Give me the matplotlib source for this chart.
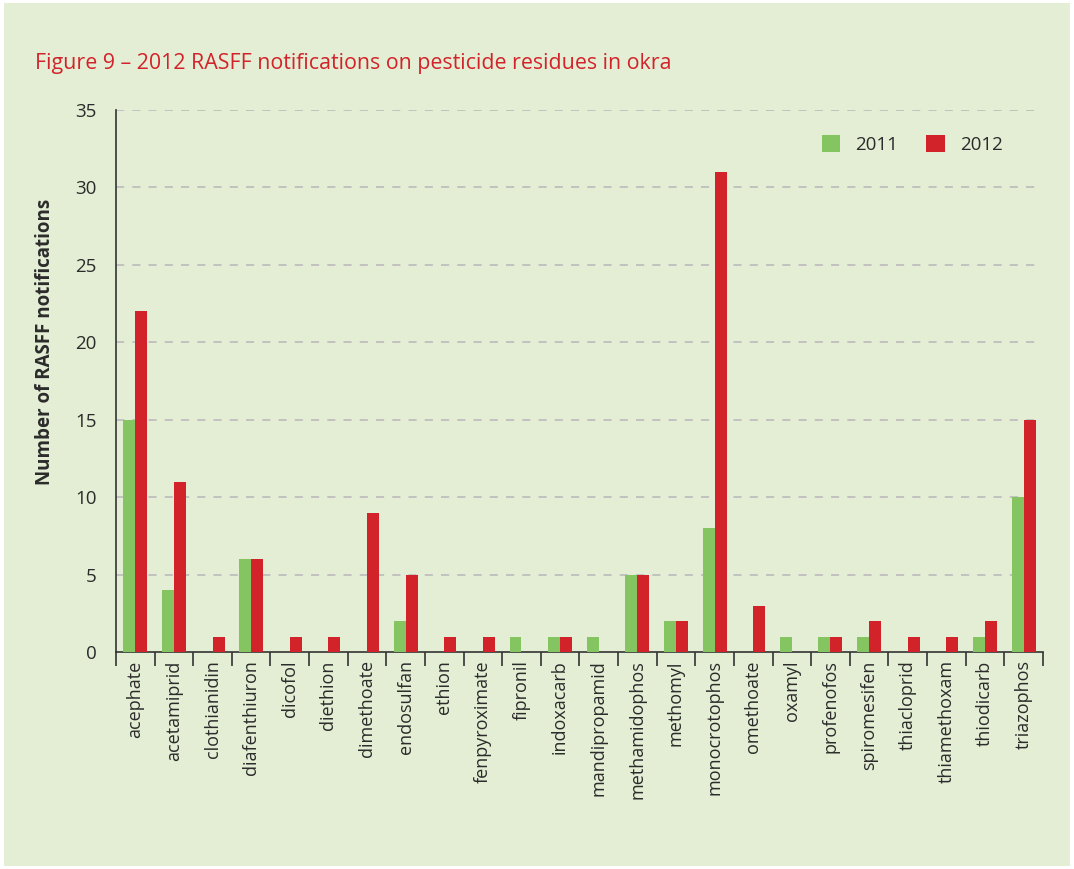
import matplotlib.pyplot as plt
import numpy as np

plt.rcParams['font.family'] = ['Open Sans', 'DejaVu Sans']

pesticides = ['acephate', 'acetamiprid', 'clothianidin', 'diafenthiuron', 'dicofol',
              'diethion', 'dimethoate', 'endosulfan', 'ethion', 'fenpyroximate',
              'fipronil', 'indoxacarb', 'mandipropamid', 'methamidophos', 'methomyl',
              'monocrotophos', 'omethoate', 'oxamyl', 'profenofos', 'spiromesifen',
              'thiacloprid', 'thiamethoxam', 'thiodicarb', 'triazophos']
n_2011 = [15, 4, 0, 6, 0, 0, 0, 2, 0, 0, 1, 1, 1, 5, 2, 8, 0, 1, 1, 1, 0, 0, 1, 10]
n_2012 = [22, 11, 1, 6, 1, 1, 9, 5, 1, 1, 0, 1, 0, 5, 2, 31, 3, 0, 1, 2, 1, 1, 2, 15]

bg = '#e3eed4'
green = '#84c562'
red = '#d3232a'
txt = '#2b2b2b'

fig = plt.figure(figsize=(10.74, 8.69), dpi=100, facecolor='white')
# panel background
fig.patches.append(plt.Rectangle((0.004, 0.004), 0.992, 0.992, transform=fig.transFigure,
                                 facecolor=bg, edgecolor='none', zorder=-10))
ax = fig.add_axes([0.108, 0.2497, 0.863, 0.6237])
ax.set_facecolor('none')

x = np.arange(len(pesticides))
w = 0.31
ax.bar(x - w / 2, n_2011, w, color=green, label='2011', zorder=3)
ax.bar(x + w / 2, n_2012, w, color=red, label='2012', zorder=3)

ax.set_xlim(-0.5, len(pesticides) - 0.5)
ax.set_ylim(0, 35)
ax.set_yticks(range(0, 36, 5))
for v in range(5, 36, 5):
    ax.plot([-0.5, len(pesticides) - 0.67], [v, v], color='#bfbfbf', lw=1.3,
            ls=(0, (4.5, 4.5)), zorder=1)

ax.set_xticks(x)
ax.set_xticklabels(pesticides, rotation=90, fontsize=13, color=txt)
ax.set_xticks(np.arange(-0.5, len(pesticides)), minor=True)
ax.tick_params(axis='x', which='major', length=0, pad=6)
ax.tick_params(axis='x', which='minor', length=10, width=1.2, color='#333333')
ax.tick_params(axis='y', length=0, labelsize=13.5, labelcolor=txt, pad=14)

for s in ['top', 'right']:
    ax.spines[s].set_visible(False)
for s in ['left', 'bottom']:
    ax.spines[s].set_color('#333333')
    ax.spines[s].set_linewidth(1.2)

ax.set_ylabel('Number of RASFF notifications', fontsize=13.5, fontweight='bold',
              color=txt)
ax.yaxis.set_label_coords(-0.066, 0.572)

ax.legend(loc='upper right', bbox_to_anchor=(0.975, 0.985), ncol=2, frameon=False,
          fontsize=13.5, handlelength=1.0, handleheight=1.0, columnspacing=1.5,
          handletextpad=0.8, labelcolor=txt)

fig.text(0.033, 0.927, 'Figure 9 \u2013 2012 RASFF notifications on pesticide residues in okra',
         fontsize=15.4, color='#d3232a', va='center', ha='left')

fig.savefig('out.png', dpi=100, facecolor=fig.get_facecolor())
